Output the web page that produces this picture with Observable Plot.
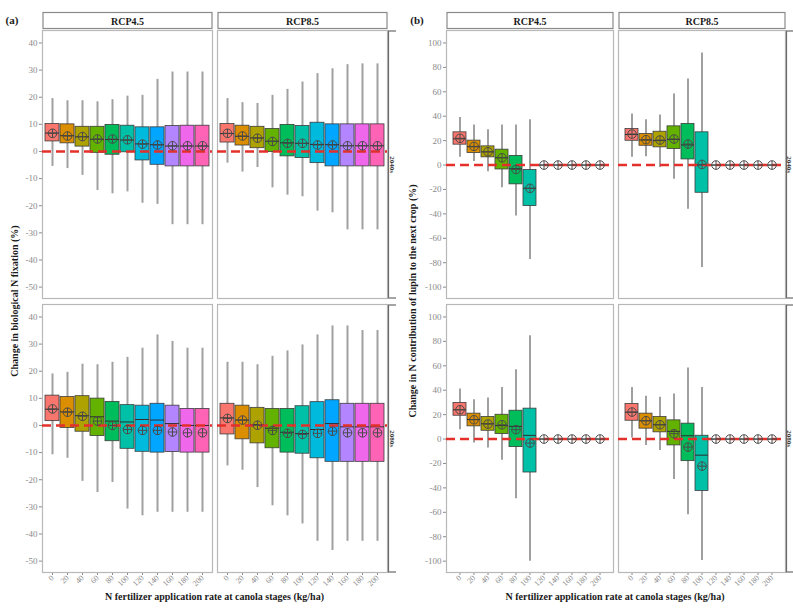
<!DOCTYPE html>
<html><head><meta charset="utf-8">
<script src="https://cdn.jsdelivr.net/npm/d3@7"></script>
<script src="https://cdn.jsdelivr.net/npm/@observablehq/plot@0.6"></script>
<style>
body{margin:0;background:#fff;}
#wrap{display:flex;width:793px;height:608px;overflow:hidden;}
#wrap svg{flex:none;overflow:hidden;}
</style></head><body><div id="wrap"></div>
<script>
const rates = ["0","20","40","60","80","100","120","140","160","180","200"];
const scenarios = ["RCP4.5","RCP8.5"];
const periods = ["2040s","2080s"];
const palette = ["#F8766D","#DB8E00","#AEA200","#64B200","#00BD5C","#00C1A7","#00BADE","#00A6FF","#B385FF","#EF67EB","#FF63B6"];
const titleA = "Change in biological N fixation (%)";
const titleB = "Change in N contribution of lupin to the next crop (%)";
const titleX = "N fertilizer application rate at canola stages (kg/ha)";
const ticksA = [-50,-40,-30,-20,-10,0,10,20,30,40];
const ticksB = [-100,-80,-60,-40,-20,0,20,40,60,80,100];

// each row: [whisker low, Q1, median, Q3, whisker high, mean] for rates 0..200
const bnf_rcp45_2040s = [[-5.5,3.7,6.8,10.1,19.5,6.7],[-6.3,3.0,5.8,10.0,18.7,5.7],[-8.8,1.8,5.4,9.1,18.7,5.5],[-14.4,-0.5,4.5,9.1,18.3,4.6],[-15.6,-1.2,4.4,9.8,19.1,4.6],[-14.9,-0.3,4.2,9.5,20.4,4.3],[-19.1,-3.3,2.8,8.9,20.7,2.7],[-19.5,-4.9,2.5,8.9,26.6,2.4],[-27.0,-5.5,2.0,9.4,29.3,2.1],[-27.0,-5.5,2.0,9.5,29.3,2.1],[-27.0,-5.5,2.0,9.5,29.3,2.1]];
const bnf_rcp85_2040s = [[-4.3,3.3,6.6,10.1,19.5,6.7],[-7.6,2.2,5.6,9.5,18.0,5.7],[-5.9,1.2,5.0,9.1,17.7,4.9],[-13.4,-0.2,3.8,8.3,20.7,3.7],[-16.1,-1.8,3.2,9.8,22.9,3.0],[-16.7,-2.4,3.0,9.4,25.6,3.0],[-22.0,-4.3,2.6,10.6,28.7,2.4],[-22.6,-5.5,2.5,10.0,30.5,2.4],[-28.9,-5.5,2.1,10.0,32.0,2.1],[-28.9,-5.5,2.1,10.0,32.3,2.1],[-28.9,-5.5,2.1,10.0,32.3,2.1]];
const bnf_rcp45_2080s = [[-10.8,1.6,6.0,11.0,19.0,6.1],[-12.1,-0.9,5.0,10.5,19.6,4.9],[-20.6,-2.3,3.6,10.8,22.6,3.4],[-24.7,-3.9,3.2,9.9,22.4,1.6],[-21.0,-5.8,1.6,8.7,23.3,0.0],[-30.8,-8.6,1.3,7.5,25.1,-1.5],[-33.3,-9.7,2.2,7.3,28.5,-1.8],[-32.0,-10.0,2.0,8.0,33.4,-1.8],[-32.0,-9.8,0.7,7.3,31.0,-2.4],[-32.0,-10.0,0.0,6.1,28.5,-2.7],[-32.0,-10.0,0.0,6.1,28.5,-2.7]];
const bnf_rcp85_2080s = [[-14.9,-3.3,2.8,8.0,23.3,2.6],[-16.5,-5.1,2.0,7.3,23.3,2.0],[-22.9,-6.6,0.3,6.5,22.4,0.1],[-29.6,-8.4,-1.0,6.1,25.5,-1.8],[-33.3,-10.0,-2.5,6.1,27.5,-2.9],[-36.3,-10.4,-3.0,7.1,29.7,-3.3],[-42.7,-12.1,-1.5,8.6,33.4,-2.9],[-46.1,-13.4,0.7,9.3,36.7,-2.1],[-42.7,-13.4,-0.5,8.0,36.7,-2.7],[-42.7,-13.4,-0.5,8.0,35.0,-2.7],[-42.7,-13.4,-0.5,8.0,35.0,-2.7]];

const ncon_rcp45_2040s = [[6.3,16.7,21.5,26.8,39.0,21.9],[3.0,9.8,15.0,20.0,32.8,15.3],[-5.5,6.3,10.8,15.3,29.0,10.9],[-18.6,-3.6,6.0,12.6,32.8,6.0],[-41.8,-15.8,-3.0,7.5,32.8,-3.6],[-77.3,-33.6,-19.0,-4.1,37.2,-19.1],[0,0,0,0,0,0],[0,0,0,0,0,0],[0,0,0,0,0,0],[0,0,0,0,0,0],[0,0,0,0,0,0]];
const ncon_rcp85_2040s = [[6.3,19.9,25.0,29.5,41.8,25.4],[6.8,15.8,20.5,25.4,37.2,20.8],[-2.0,14.5,20.0,27.3,41.0,20.5],[-11.7,13.1,21.0,31.7,58.2,21.3],[-36.3,4.6,16.5,33.6,70.5,17.2],[-84.0,-22.7,0.0,26.8,91.8,0.5],[0,0,0,0,0,0],[0,0,0,0,0,0],[0,0,0,0,0,0],[0,0,0,0,0,0],[0,0,0,0,0,0]];
const ncon_rcp45_2080s = [[7.7,19.1,24.0,29.5,41.0,24.0],[-3.3,10.4,16.0,20.8,32.2,15.8],[-7.4,6.8,12.5,18.0,33.6,12.3],[-17.3,4.1,11.0,19.9,42.3,11.7],[-48.8,-6.6,10.4,23.2,56.8,7.7],[-100,-27.4,3.0,24.9,84.7,-3.3],[0,0,0,0,0,0],[0,0,0,0,0,0],[0,0,0,0,0,0],[0,0,0,0,0,0],[0,0,0,0,0,0]];
const ncon_rcp85_2080s = [[0.8,15.0,22.0,28.7,42.3,22.1],[-5.2,8.5,15.0,20.8,35.0,15.0],[-9.3,5.5,11.7,18.0,34.2,11.7],[-33.2,-5.2,6.3,15.3,36.9,4.4],[-61.9,-18.1,2.7,12.6,58.2,-6.6],[-99.5,-42.5,-13.2,2.7,42.3,-22.2],[0,0,0,0,0,0],[0,0,0,0,0,0],[0,0,0,0,0,0],[0,0,0,0,0,0],[0,0,0,0,0,0]];

const circlePlus = {draw(ctx, size){
  const r = Math.sqrt(size/Math.PI);
  ctx.moveTo(r,0); ctx.arc(0,0,r,0,2*Math.PI);
  ctx.moveTo(-r,0); ctx.lineTo(r,0);
  ctx.moveTo(0,-r); ctx.lineTo(0,r);
}};

const SERIF = "'Liberation Serif','Times New Roman',serif";

function panel(o){
  const data = [];
  for (const [scen, period, arr] of o.groups)
    arr.forEach((v,i)=>data.push({scen, period, rate: rates[i], lo:v[0], q1:v[1], med:v[2], q3:v[3], hi:v[4], mean:v[5]}));
  const H = 608, mt = 30, mb = 36;
  const fc = {fx:"scen", fy:"period"};
  const chart = Plot.plot({
    width:o.width, height:H, marginLeft:o.ml, marginRight:o.mr, marginTop:mt, marginBottom:mb,
    style:{fontFamily:SERIF, fontSize:"9px", color:"#8a8a8a", background:"#fff", overflow:"hidden"},
    x:{domain:rates, paddingInner:0.1, paddingOuter:0.15, tickRotate:-45, tickSize:3, tickPadding:1, label:null},
    y:{domain:o.yDomain, ticks:o.yTicks, tickFormat:d=>String(d), tickSize:3, tickPadding:2, label:null},
    fx:{domain:scenarios, paddingInner:0.03, paddingOuter:0, axis:null, label:null},
    fy:{domain:periods, paddingInner:0.022, paddingOuter:0, axis:null, label:null},
    color:{domain:rates, range:palette},
    marks:[
      Plot.frame({stroke:"#b8b8b8", strokeWidth:1.2}),
      Plot.ruleX(data,{x:"rate", y1:"lo", y2:"hi", ...fc, stroke:"#a0a0a0", strokeWidth:2}),
      Plot.barY(data,{x:"rate", y1:"q1", y2:"q3", ...fc, fill:"rate", stroke:"#3c3c3c", strokeWidth:0.8}),
      Plot.tickY(data,{x:"rate", y:"med", ...fc, stroke:"#2e2e2e", strokeWidth:1}),
      Plot.ruleY([0],{stroke:"#e3302b", strokeWidth:2.5, strokeDasharray:"9,5"}),
      Plot.dot(data,{x:"rate", y:"mean", ...fc, symbol:circlePlus, r:4.3, fill:"none", stroke:"#4a4a4a", strokeWidth:1})
    ]
  });
  document.getElementById("wrap").appendChild(chart);
  const svg = d3.select(chart);
  svg.selectAll('g[aria-label^="x-axis"] text').attr("font-size", 8);
  const sb = chart.getBoundingClientRect();
  const boxes = [];
  svg.selectAll('g[aria-label="frame"] rect').each(function(){
    const b = this.getBoundingClientRect();
    boxes.push({x:b.left-sb.left, y:b.top-sb.top, w:b.width, h:b.height});
  });
  const xs = [...new Set(boxes.map(b=>Math.round(b.x)))].sort((a,b)=>a-b);
  const ys = [...new Set(boxes.map(b=>Math.round(b.y)))].sort((a,b)=>a-b);
  const g = svg.append("g");
  boxes.filter(b=>Math.round(b.y)===ys[0]).forEach(b=>{
    const s = scenarios[xs.indexOf(Math.round(b.x))];
    g.append("rect").attr("x", b.x+0.5).attr("y", 12.5).attr("width", b.w-1).attr("height", 16)
      .attr("fill","#fff").attr("stroke","#8a8a8a").attr("stroke-width",1.2);
    g.append("text").attr("x", b.x+b.w/2).attr("y", 21).attr("text-anchor","middle").attr("dominant-baseline","central")
      .attr("font-family",SERIF).attr("font-weight","bold").attr("font-size",10).attr("fill","#1a1a1a").text(s);
  });
  boxes.filter(b=>Math.round(b.x)===xs[xs.length-1]).forEach(b=>{
    const p = periods[ys.indexOf(Math.round(b.y))];
    const x0 = b.x + b.w + 1;
    g.append("rect").attr("x", x0).attr("y", b.y+0.5).attr("width", 16).attr("height", b.h-1)
      .attr("fill","#fff").attr("stroke","#6a6a6a").attr("stroke-width",1.2);
    g.append("text").attr("transform", `translate(${Math.min(x0+4.5, o.width-4)},${b.y+b.h/2}) rotate(90)`).attr("text-anchor","middle")
      .attr("dominant-baseline","central").attr("font-family",SERIF).attr("font-weight","bold").attr("font-size",7)
      .attr("fill","#333").text(p);
  });
  g.append("text").attr("transform", `translate(${o.yTitleX},301) rotate(-90)`).attr("text-anchor","middle")
    .attr("dominant-baseline","central").attr("font-family",SERIF).attr("font-weight","bold").attr("font-size",10)
    .attr("fill","#1a1a1a").text(o.yTitle);
  g.append("text").attr("x", (o.ml + o.width - o.mr)/2).attr("y", 600).attr("text-anchor","middle")
    .attr("font-family",SERIF).attr("font-weight","bold").attr("font-size",10).attr("fill","#1a1a1a").text(titleX);
  g.append("text").attr("x", o.tagX).attr("y", 24).attr("font-family",SERIF).attr("font-weight","bold")
    .attr("font-size",11).attr("fill","#1a1a1a").text(o.tag);
}

panel({groups:[["RCP4.5","2040s",bnf_rcp45_2040s],["RCP8.5","2040s",bnf_rcp85_2040s],["RCP4.5","2080s",bnf_rcp45_2080s],["RCP8.5","2080s",bnf_rcp85_2080s]],
  width:396, ml:42, mr:9, yDomain:[-54.2,44.6], yTicks:ticksA, yTitle:titleA, yTitleX:14, tag:"(a)", tagX:12});
panel({groups:[["RCP4.5","2040s",ncon_rcp45_2040s],["RCP8.5","2040s",ncon_rcp85_2040s],["RCP4.5","2080s",ncon_rcp45_2080s],["RCP8.5","2080s",ncon_rcp85_2080s]],
  width:397, ml:49, mr:8, yDomain:[-109.3,110.2], yTicks:ticksB, yTitle:titleB, yTitleX:16, tag:"(b)", tagX:21});
</script></body></html>
